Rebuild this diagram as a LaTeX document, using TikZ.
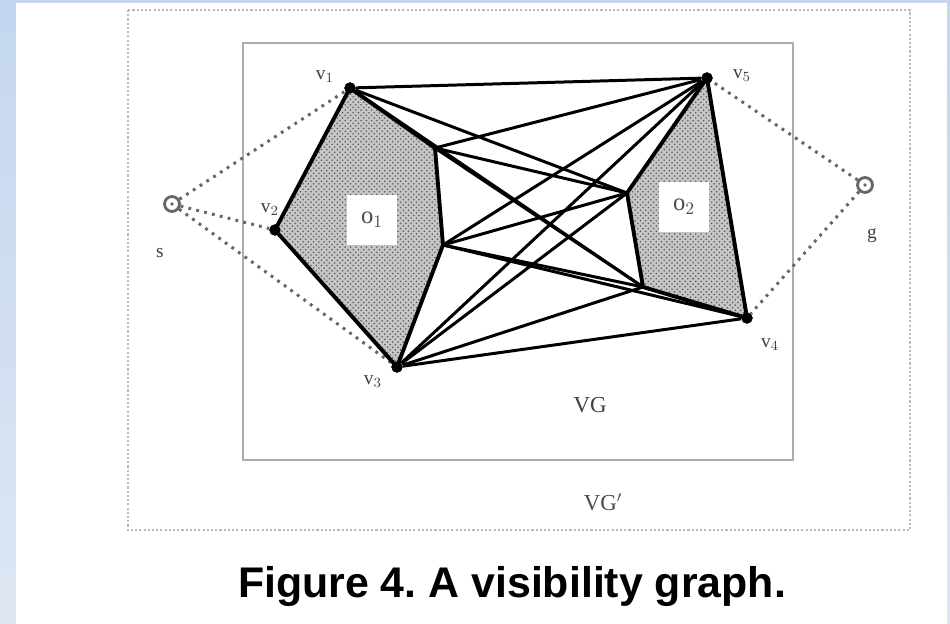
\documentclass[tikz,border=0pt]{standalone}
\usepackage{fontspec}
\setmainfont{Liberation Serif}
\newfontfamily\capfont{Liberation Sans}
\usetikzlibrary{positioning,patterns}
\frenchspacing

\begin{document}
\begin{tikzpicture}[x=0.02cm, y=-0.02cm,
    vtx/.style={circle, fill=black, inner sep=0pt, minimum size=6.4pt},
    term/.style={circle, draw=black!60, line width=1.6pt, fill=white, inner sep=0pt, minimum size=8.5pt,
      path picture={\fill[black!60] (path picture bounding box.center) circle (1.1pt);}},
    lbl/.style={font=\fontsize{11}{13}\selectfont, text=black!75, inner sep=0pt},
    olbl/.style={fill=white, font=\fontsize{14}{16}\selectfont, text=black!70, minimum width=29pt, minimum height=29pt, inner sep=0pt},
    vis/.style={black, line width=1.7pt},
    obst/.style={black, line width=2.2pt, line join=round},
    link/.style={black!60, line width=1.7pt, dash pattern=on 1.6pt off 3pt},
    halftone/.style={pattern=crosshatch dots, pattern color=black!65}]

    % Farben definieren
    \definecolor{frametop}{RGB}{196,214,240}
    \definecolor{framebot}{RGB}{222,230,242}

    % --- Hintergrund und Rahmen ---
    \shade[top color=frametop, bottom color=framebot] (0,0) rectangle (950,624);
    \fill[white] (16,3) rectangle (947,624);
    \draw[gray!55, line width=0.8pt, dash pattern=on 1.2pt off 1.2pt] (128,10) rectangle (910,530);
    \draw[gray!65, line width=1.2pt] (243,43) rectangle (793,460);

    % --- Ecken der Hindernisse ---
    \node[vtx] (v1) at (350,88) {};
    \node[vtx] (v2) at (275,230) {};
    \node[vtx] (v3) at (397,367) {};
    \node[vtx] (v4) at (747,318) {};
    \node[vtx] (v5) at (707,78) {};
    \coordinate (a2) at (435,148);
    \coordinate (a3) at (443,245);
    \coordinate (b3) at (643,287);
    \coordinate (b4) at (627,193);

    % Hindernisse o1 und o2
    \fill[gray!45] (v1.center) -- (a2) -- (a3) -- (v3.center) -- (v2.center) -- cycle;
    \fill[halftone] (v1.center) -- (a2) -- (a3) -- (v3.center) -- (v2.center) -- cycle;
    \fill[gray!45] (v5.center) -- (v4.center) -- (b3) -- (b4) -- cycle;
    \fill[halftone] (v5.center) -- (v4.center) -- (b3) -- (b4) -- cycle;
    \node[olbl] (o1) at (372,220) {o$_1$};
    \node[olbl] (o2) at (684,207) {o$_2$};

    % --- Start und Ziel ---
    \node[term] (s) at (172,204) {};
    \node[term] (g) at (865,185) {};
    \draw[link] (s) -- (v1);
    \draw[link] (s) -- (v2);
    \draw[link] (s) -- (v3);
    \draw[link] (g) -- (v5);
    \draw[link] (g) -- (v4);

    % Sichtbarkeitskanten
    \foreach \p/\q in {v1/v5, v1/b4, v1/b3, a2/v5, a2/b4, a2/b3, a3/v5, a3/b4, a3/b3, a3/v4,
                       v3/v5, v3/b4, v3/b3, v3/v4}
      \draw[vis] (\p) -- (\q);
    \draw[obst] (v1.center) -- (a2) -- (a3) -- (v3.center) -- (v2.center) -- cycle;
    \draw[obst] (v5.center) -- (v4.center) -- (b3) -- (b4) -- cycle;
    \foreach \v in {v1,v2,v3,v4,v5}
      \fill (\v) circle (3.2pt);

    % Beschriftung
    \node[lbl] (l1) at (325,77) {v$_1$};
    \node[lbl] (l2) at (270,210) {v$_2$};
    \node[lbl] (l3) at (373,382) {v$_3$};
    \node[lbl] (l4) at (770,345) {v$_4$};
    \node[lbl] (l5) at (742,76) {v$_5$};
    \node[lbl] (ls) at (160,253) {s};
    \node[lbl] (lg) at (872,236) {g};
    \node[font=\fontsize{13}{15}\selectfont, text=black!75] (vg) at (590,405) {VG};
    \node[font=\fontsize{13}{15}\selectfont, text=black!70] (vgp) at (603,502) {VG$'$};
    \node[font=\capfont\bfseries\fontsize{24.4}{28}\selectfont, anchor=base] (cap) at (512,598) {Figure 4. A visibility graph.};

\end{tikzpicture}
\end{document}
